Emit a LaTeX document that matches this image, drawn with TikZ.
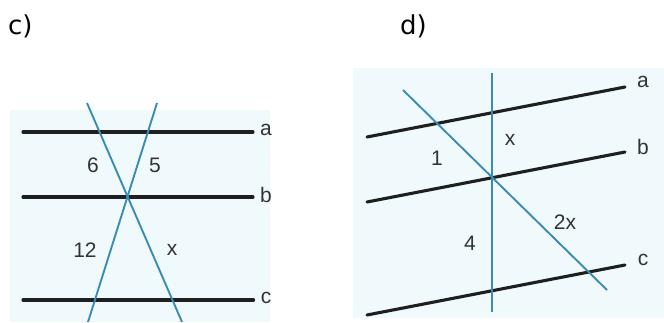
\documentclass[tikz,border=0pt]{standalone}
\usepackage{fontspec}
\setmainfont{Liberation Sans}
\newfontfamily\titlefont{DejaVu Sans}
\usepackage{tikz}
\definecolor{paper}{HTML}{F0F9FB}
\definecolor{lineblue}{HTML}{3A8CB4}

\begin{document}
\begin{tikzpicture}[x=1pt, y=-1pt,
  Panel/.style={fill=paper, draw=none},
  Parallel/.style={draw=black!88, line width=3.1pt, line cap=round},
  Transversal/.style={draw=lineblue, line width=1.9pt},
  Label/.style={inner sep=3pt, font=\fontsize{21}{21}\selectfont, text=black!80},
  Title/.style={inner sep=0pt, anchor=west, font=\titlefont\fontsize{26}{26}\selectfont}]

\useasboundingbox (0,0) rectangle (664,322);

\node [Title] (titlec) at (8,26) {c)};
\node [Title] (titled) at (400,26) {d)};

% panel c)
\fill [Panel] (10,110) rectangle (270,322);

\foreach \y/\name in {132/a, 197/b, 300/c} {
  \coordinate (c\name0) at (23,\y);
  \node [Label] (c\name) at (266,\y-2) {\name};
  \draw [Parallel, shorten >=4pt] (c\name0) -- (c\name.west |- c\name0);
}

\coordinate (ct1) at (87,103);
\coordinate (ct2) at (182,322);
\coordinate (ct3) at (157,103);
\coordinate (ct4) at (88,322);
\draw [Transversal] (ct1) -- (ct2);
\draw [Transversal] (ct3) -- (ct4);

\node [Label] (c6) at (93,165) {6};
\node [Label] (c5) at (155,165) {5};
\node [Label] (c12) at (85,250) {12};
\node [Label] (cx) at (172,250) {x};

% panel d)
\fill [Panel] (353,68) rectangle (664,318);

\foreach \ya/\yb/\name in {137/87/a, 202/152/b, 315/265/c} {
  \coordinate (d\name0) at (367,\ya);
  \coordinate (d\name1) at (625,\yb);
  \node [Label] (d\name) at (643,\yb-5) {\name};
  \draw [Parallel] (d\name0) -- (d\name1);
}

\coordinate (dt1) at (492,73);
\coordinate (dt2) at (492,312);
\coordinate (dt3) at (403,90);
\coordinate (dt4) at (607,290);
\draw [Transversal] (dt1) -- (dt2);
\draw [Transversal] (dt3) -- (dt4);

\node [Label] (dx) at (510,140) {x};
\node [Label] (d1) at (437,158) {1};
\node [Label] (d2x) at (565,222) {2x};
\node [Label] (d4) at (470,243) {4};
\end{tikzpicture}
\end{document}
